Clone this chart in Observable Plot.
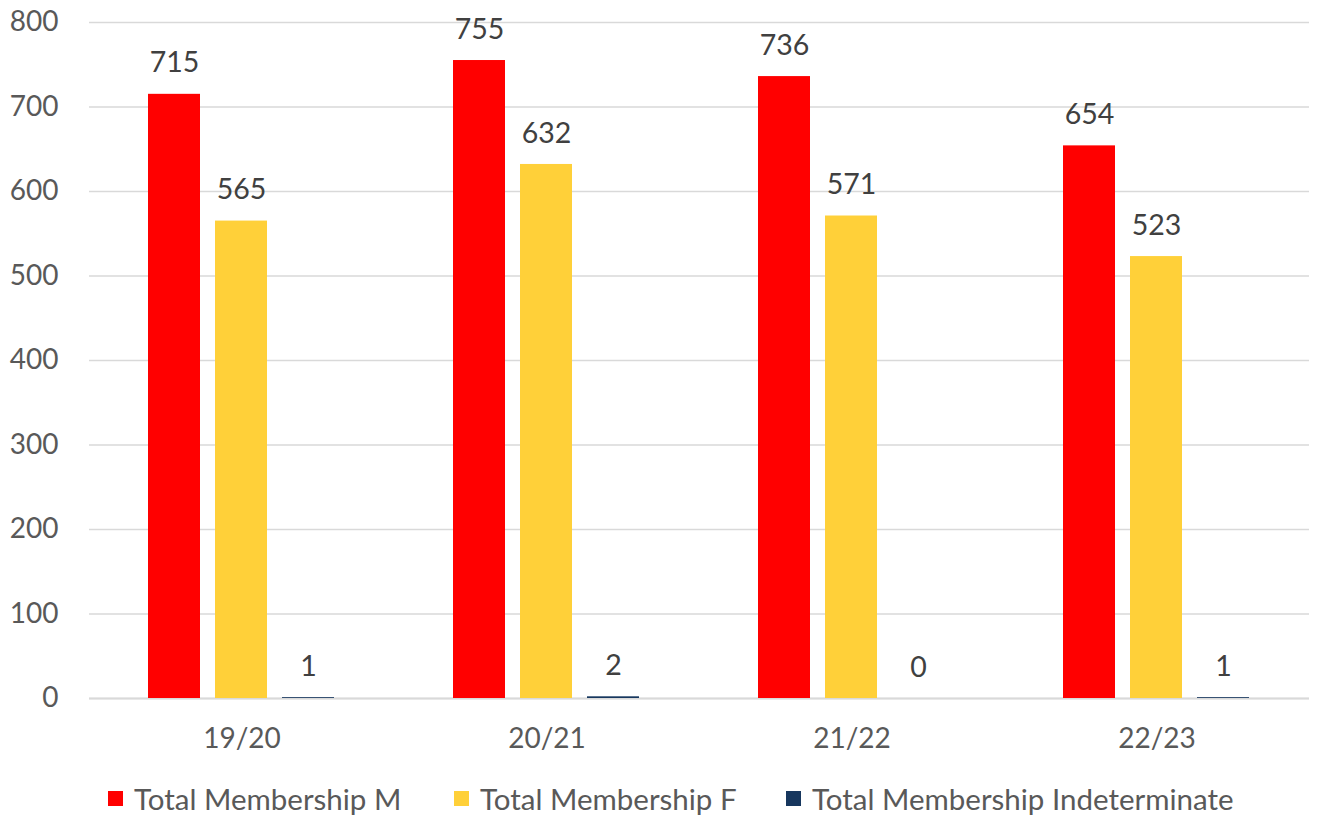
<!DOCTYPE html>
<html>
<head>
<meta charset="utf-8">
<script src="https://cdn.jsdelivr.net/npm/d3@7"></script>
<script src="https://cdn.jsdelivr.net/npm/@observablehq/plot@0.6"></script>
<style>
  body { margin: 0; background: #fff; font-family: Lato, "Open Sans", sans-serif; }
  #wrap { position: relative; width: 1323px; height: 815px; }
  #legend { position: absolute; top: 781px; left: 0; width: 1323px; height: 34px; }
  .item { position: absolute; top: 0; display: flex; align-items: center; font-size: 29.5px; color: #595959; white-space: nowrap; }
  .sw { width: 15px; height: 15px; margin-right: 11px; }
</style>
</head>
<body>
<div id="wrap">
  <div id="chart"></div>
  <div id="legend"></div>
</div>
<script>
const years = ["19/20", "20/21", "21/22", "22/23"];
const seriesNames = ["Total Membership M", "Total Membership F", "Total Membership Indeterminate"];
const male = [715, 755, 736, 654];
const female = [565, 632, 571, 523];
const indeterminate = [1, 2, 0, 1];
const yTicks = [0, 100, 200, 300, 400, 500, 600, 700, 800];
const colors = ["#FF0000", "#FFD039", "#17375E"];

const seriesValues = [male, female, indeterminate];
const rows = years.flatMap((yr, i) => seriesNames.map((s, j) => ({year: yr, series: s, value: seriesValues[j][i]})));

const chart = Plot.plot({
  width: 1323,
  height: 770,
  marginTop: 22,
  marginBottom: 72,
  marginLeft: 88,
  marginRight: 13,
  style: {fontFamily: "Lato, 'Open Sans', sans-serif", fontSize: "28px", color: "#595959", background: "#fff"},
  fx: {domain: years, padding: 0, label: null},
  x: {domain: seriesNames, paddingInner: 0.22, paddingOuter: 0.87},
  y: {domain: [0, 800], label: null},
  color: {domain: seriesNames, range: colors},
  marks: [
    Plot.gridY(yTicks, {stroke: "#d9d9d9", strokeOpacity: 1, strokeWidth: 1.5}),
    Plot.axisY(yTicks, {tickSize: 0, tickPadding: 31, fontSize: 28, fill: "#595959", label: null}),
    Plot.axisFx({anchor: "bottom", tickSize: 0, tickPadding: 30, fontSize: 28, fill: "#595959", label: null}),
    Plot.axisX({ticks: [], label: null, tickSize: 0}),
    Plot.ruleY([0], {stroke: "#d9d9d9", strokeWidth: 2}),
    Plot.barY(rows, {fx: "year", x: "series", y: "value", fill: "series"}),
    Plot.text(rows, {fx: "year", x: "series", y: "value", text: d => String(d.value), dy: -31, fontSize: 28.5, fill: "#404040"})
  ]
});
document.getElementById("chart").append(chart);

const legendLefts = [108, 454, 786];
const legend = document.getElementById("legend");
seriesNames.forEach((s, i) => {
  const item = document.createElement("div");
  item.className = "item";
  item.style.left = legendLefts[i] + "px";
  const sw = document.createElement("div");
  sw.className = "sw";
  sw.style.background = colors[i];
  const t = document.createElement("span");
  t.textContent = s;
  item.append(sw, t);
  legend.append(item);
});
</script>
</body>
</html>
